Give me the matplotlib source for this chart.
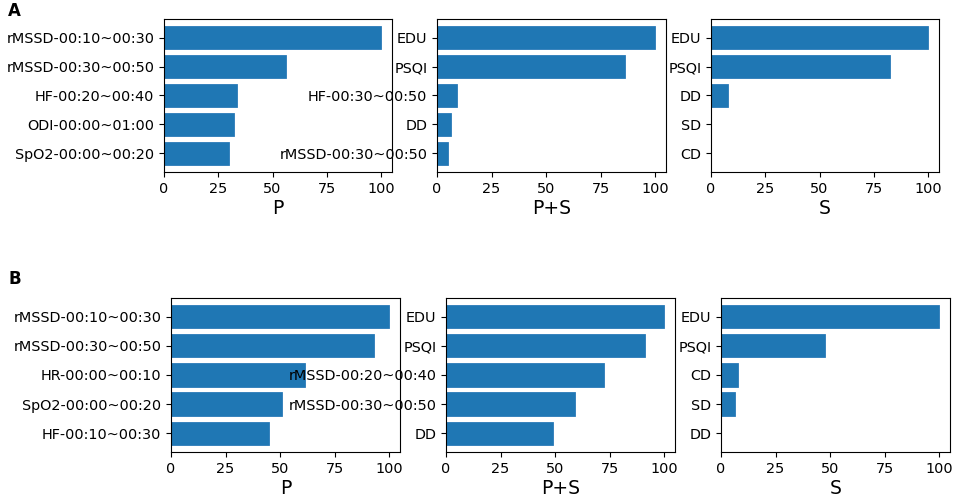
import matplotlib
matplotlib.use("Agg")
import matplotlib.pyplot as plt

# Row A
a_p_labels = ["rMSSD-00:10~00:30", "rMSSD-00:30~00:50", "HF-00:20~00:40", "ODI-00:00~01:00", "SpO2-00:00~00:20"]
a_p_values = [100, 56.3, 33.8, 32.1, 30.1]
a_ps_labels = ["EDU", "PSQI", "HF-00:30~00:50", "DD", "rMSSD-00:30~00:50"]
a_ps_values = [100, 86.2, 9.1, 6.3, 5.2]
a_s_labels = ["EDU", "PSQI", "DD", "SD", "CD"]
a_s_values = [100, 82.6, 8.0, 0, 0]

# Row B
b_p_labels = ["rMSSD-00:10~00:30", "rMSSD-00:30~00:50", "HR-00:00~00:10", "SpO2-00:00~00:20", "HF-00:10~00:30"]
b_p_values = [100, 93.0, 61.4, 50.7, 45.0]
b_ps_labels = ["EDU", "PSQI", "rMSSD-00:20~00:40", "rMSSD-00:30~00:50", "DD"]
b_ps_values = [100, 91.1, 72.6, 59.0, 49.2]
b_s_labels = ["EDU", "PSQI", "CD", "SD", "DD"]
b_s_values = [100, 47.5, 7.6, 6.6, 0]

xlabels = ["P", "P+S", "S"]
xticks = [0, 25, 50, 75, 100]

W, H = 957, 496
fig = plt.figure(figsize=(W / 100, H / 100), dpi=100)

rows = [
    dict(lefts=[164, 437, 711], widths=[228, 229, 228], top=19, bottom=172,
         data=[(a_p_labels, a_p_values), (a_ps_labels, a_ps_values), (a_s_labels, a_s_values)]),
    dict(lefts=[171, 446, 721], widths=[229, 229, 229], top=298, bottom=452,
         data=[(b_p_labels, b_p_values), (b_ps_labels, b_ps_values), (b_s_labels, b_s_values)]),
]

for row in rows:
    for i in range(3):
        l = row["lefts"][i] / W
        w = row["widths"][i] / W
        b = 1 - row["bottom"] / H
        h = (row["bottom"] - row["top"]) / H
        ax = fig.add_axes([l, b, w, h])
        labels, values = row["data"][i]
        ypos = list(range(len(labels)))
        ax.barh(ypos, values, color="#1f77b4", edgecolor="#2a7ab8", linewidth=0.6, height=0.8)
        ax.set_yticks(ypos)
        ax.set_yticklabels(labels, fontsize=10.4)
        ax.set_xlim(0, 105)
        ax.invert_yaxis()
        ax.set_xticks(xticks)
        ax.tick_params(axis="x", labelsize=10.4)
        ax.set_xlabel(xlabels[i], fontsize=13.5, labelpad=2)

fig.text(8 / W, 1 - 16 / H, "A", fontsize=12, fontweight="bold")
fig.text(8 / W, 1 - 284 / H, "B", fontsize=12, fontweight="bold")

fig.savefig("out.png", dpi=100)
